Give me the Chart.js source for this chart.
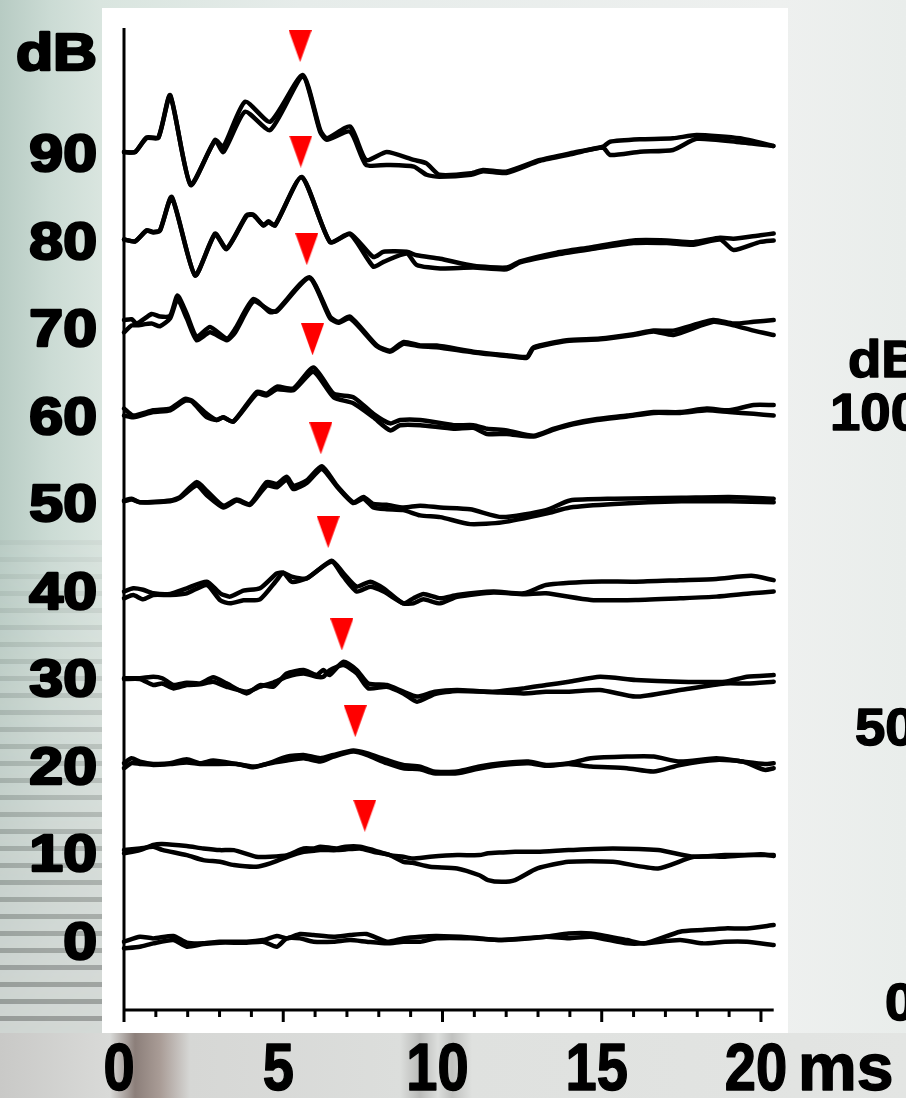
<!DOCTYPE html>
<html><head><meta charset="utf-8">
<script src="https://cdn.jsdelivr.net/npm/chart.js@4.4.1/dist/chart.umd.min.js"></script>
<style>
html,body{margin:0;padding:0;width:906px;height:1098px;overflow:hidden;}
body{position:relative;background:linear-gradient(to right,#b7cbc3 0px,#cbdbd4 50px,#d9e5df 100px,#e6ecea 300px,#eef0ef 780px,#e9edeb 906px);}
#stripes{position:absolute;left:0;top:540px;width:104px;height:500px;
background:repeating-linear-gradient(to bottom,#8f918f 0px,#8f918f 5px,#d3d6d4 5px,#d3d6d4 17px);
-webkit-mask-image:linear-gradient(to bottom,rgba(0,0,0,0.1),rgba(0,0,0,0.85));}
#bottom{position:absolute;left:0;top:1033px;width:906px;height:65px;background:linear-gradient(to right,#c9c9c7 0px,#d9dad8 110px,#8c7f7a 135px,#a99c96 160px,#d6d7d5 190px,#dcdedc 400px,#b9bab8 420px,#dcdedc 438px,#c0c1bf 452px,#dfe1df 472px,#e3e5e3 906px);}
#panel{position:absolute;left:102px;top:8px;width:686px;height:1025px;background:#ffffff;}
#wrap{position:absolute;left:0;top:0;width:906px;height:1098px;}
</style></head>
<body>
<div id="stripes"></div><div id="bottom"></div><div id="panel"></div>
<div id="wrap"><canvas id="c" width="906" height="1098"></canvas></div>
<script>
// Stimulus levels (dB) and tick labels
const levels = [90, 80, 70, 60, 50, 40, 30, 20, 10, 0];
const levelLabels = ["90","80","70","60","50","40","30","20","10","0"];
const timeTicks = [0, 5, 10, 15, 20];
const timeTickLabels = ["0", "5", "10", "15", "20"];

// Waveforms: time (ms) and deflection (dB-scale units) for the two repeated runs
const t90 = [0,0.35,0.71,1.08,1.45,2.09,2.86,3.12,3.8,4.59,5.61,6.16,6.37,7.1,7.6,8.25,9.1,9.5,9.9,10.9,11.27,12.0,13.06,14.1,15.04,15.26,16.2,17.24,17.98,19.34,20.39];
const a90 = [0,0,1.67,1.67,6.5,-3.77,1.37,0.6,5.74,3.46,8.79,2.5,1.56,2.9,-0.91,0,-0.91,-1.3,-2.6,-2.44,-2.05,-2.25,-0.91,-0.08,0.6,1.17,1.45,1.56,1.94,1.56,0.68];
const b90 = [0,0,1.6,1.6,6.4,-3.7,1.3,0,4.6,2.5,8.6,2.3,1.4,2.32,-1.48,-1.48,-1.67,-2.6,-2.82,-2.6,-2.2,-2.4,-1.0,-0.2,0.5,-0.34,0.03,0.23,1.5,1.1,0.68];

const t80 = [0,0.35,0.71,0.92,1.13,1.5,2.23,2.86,3.22,3.85,4.06,4.38,4.53,4.74,5.58,6.47,7.1,7.83,8.15,8.88,9.19,9.93,10.97,12.02,12.44,13.59,14.64,16.0,17.04,17.88,18.72,19.14,19.98,20.4];
const a80 = [0,-0.2,1.06,0.87,1.06,4.87,-4.07,0.68,-1.03,2.78,2.85,1.63,2.09,1.63,7.15,-0.27,0.68,-2.0,-1.4,-1.4,-1.8,-2.2,-3.0,-3.2,-2.5,-1.5,-0.9,-0.1,-0.1,-0.3,0.2,0.1,0.5,0.68];
const b80 = [0,-0.2,1.0,0.8,1.0,4.8,-4.1,0.6,-1.1,2.7,2.8,1.6,2.0,1.6,7.1,-0.3,0.6,-3.1,-2.55,-1.6,-2.9,-3.3,-3.2,-3.4,-2.6,-1.7,-1.1,-0.4,-0.4,-0.6,0.0,-1.2,-0.27,-0.1];

const t70 = [0,0.24,0.4,0.87,1.13,1.45,1.68,1.97,2.28,2.7,3.23,3.49,4.06,4.59,4.8,5.82,6.47,6.73,7.1,7.94,8.36,8.78,9.3,9.82,10.97,12.02,12.65,12.86,13.9,14.95,16.0,16.63,17.25,18.5,19.14,19.77,20.4];
const a70 = [0.8,0.9,0.4,1.5,1.2,1.3,3.6,1.5,-1.1,0,-1.3,-0.2,3.2,1.7,1.9,5.7,1.2,0.6,1.2,-2.1,-2.7,-1.7,-2.1,-2.1,-2.8,-3.2,-3.4,-2.3,-1.5,-1.3,-0.8,-0.4,-0.4,0.8,0.4,0.6,0.8];
const b70 = [-0.6,0.2,0.2,0.4,0.1,1.0,3.2,1.0,-1.5,-0.6,-1.5,-0.6,2.9,1.9,1.8,5.6,1.0,0.5,1.0,-2.2,-2.8,-1.9,-2.2,-2.3,-2.9,-3.3,-3.5,-2.4,-1.6,-1.4,-0.9,-0.5,-0.9,0.6,0.2,-0.4,-0.9];

const t60 = [0,0.29,0.92,1.45,1.92,2.13,2.6,2.91,3.12,3.43,4.17,4.48,4.8,5.32,5.95,6.58,7.2,7.83,8.36,8.67,9.3,10.35,10.97,11.4,12.02,12.86,13.5,14.1,14.85,15.8,16.63,17.46,18.3,19.0,19.77,20.4];
const a60 = [0.7,-0.1,0.5,0.7,1.8,1.6,0.1,-0.6,-0.3,-0.8,2.6,2.4,3.2,3.0,5.4,2.4,2.0,0.1,-1.0,-0.6,-0.6,-1.2,-1.2,-1.6,-1.8,-2.4,-1.6,-1.0,-0.5,-0.1,0.3,0.3,0.7,0.5,1.1,1.1];
const b60 = [-0.1,-0.3,0.3,0.5,1.6,1.5,-0.3,-0.6,-0.3,-0.8,2.4,2.2,2.9,2.8,4.9,2.0,1.3,-0.3,-1.8,-1.2,-1.2,-1.6,-1.5,-2.2,-2.2,-2.5,-1.7,-1.1,-0.6,-0.2,0.2,0.2,0.5,0.3,0.1,-0.1];

const t50 = [0,0.24,0.5,1.45,1.76,2.28,2.6,3.12,3.54,3.96,4.48,4.8,5.11,5.32,5.74,6.21,6.68,7.2,7.52,7.83,8.25,8.77,9.3,9.93,10.87,11.87,13.25,14.0,15.4,17.5,19.0,20.4];
const a50 = [0.2,0.4,0,0.2,0.6,2.3,1.3,-0.4,0.3,-0.2,2.3,2.1,2.9,1.9,2.5,4.1,1.9,0,0.6,-0.2,-0.3,-0.6,-0.4,-0.6,-0.8,-1.7,-0.9,0.2,0.4,0.5,0.6,0.4];
const b50 = [0.1,0.3,0,0.1,0.5,1.9,0.8,-0.6,0.2,-0.3,1.9,1.7,2.6,1.5,2.2,3.8,1.8,-0.1,0.4,-0.6,-0.8,-0.9,-1.5,-1.7,-2.5,-2.3,-1.3,-0.6,-0.2,0.1,0.1,0];

const t40 = [0,0.29,0.6,0.92,1.45,1.97,2.6,3.02,3.33,3.75,4.27,4.8,5.0,5.27,5.74,6.52,6.89,7.31,7.73,8.15,8.77,9.09,9.4,9.93,10.46,11.6,12.56,13.25,14.66,16.07,17.46,18.6,19.7,20.4];
const a40 = [-0.2,0.17,0,-0.4,-0.48,0.17,0.93,-0.4,-0.78,-0.1,0.17,1.88,1.96,1.5,1.31,3.33,1.88,0.36,0.93,0.17,-1.55,-0.97,-0.48,-0.97,-0.59,-0.2,-0.4,0.55,0.93,0.93,1.1,1.24,1.6,1.1];
const b40 = [-0.97,-0.6,-1.09,-0.6,-0.6,-0.4,0.55,-1.2,-1.55,-1.2,-1.09,1.12,1.96,0.9,1.31,3.2,1.5,-0.2,0.36,-0.2,-1.55,-1.55,-1.09,-1.55,-0.8,-0.3,-0.5,-0.4,-1.16,-1.16,-0.97,-0.78,-0.4,-0.2];

const t30 = [0,0.5,0.92,1.2,1.55,1.97,2.39,2.8,3.22,3.85,4.27,4.69,5.11,5.64,6.05,6.26,6.45,6.89,7.31,7.67,8.25,8.77,9.2,9.76,10.46,11.58,12.56,13.25,13.97,14.95,16.07,17.46,18.87,19.56,20.4];
const a30 = [-0.1,-0.1,0.07,-0.1,-0.88,-0.61,-0.69,0,-0.69,-1.83,-0.88,-1.07,0.45,0.83,0.26,0.83,0.26,1.78,0.83,-0.69,-0.88,-1.64,-2.2,-1.64,-1.45,-1.64,-1.26,-0.88,-0.5,0.07,-0.3,-0.5,-0.5,0.07,0.26];
const b30 = [-0.2,-0.2,-0.88,-0.7,-1.26,-0.88,-0.8,-0.5,-1.07,-1.64,-1.07,-0.6,0.07,0.45,0.07,0.07,0.8,1.4,0.45,-1.26,-1.07,-1.83,-2.78,-1.9,-1.55,-1.7,-1.83,-1.64,-1.64,-1.45,-2.2,-1.45,-0.7,-0.7,-0.5];

const t20 = [0,0.24,0.5,0.92,1.45,1.97,2.39,2.8,3.54,4.06,4.48,5.11,5.64,6.16,6.58,7.2,7.62,8.25,8.77,9.3,9.72,10.46,11.16,11.86,12.7,13.25,13.96,14.66,15.79,16.63,17.46,18.6,19.43,20.12,20.4];
const a20 = [0.19,0.76,0.38,0.11,0.19,0.65,0.19,0.5,0.11,-0.19,0.11,0.95,1.14,0.76,1.14,1.64,1.33,0.57,0,-0.19,-0.76,-0.76,-0.19,0.19,0.38,0,0.19,0.76,0.95,0.95,0.38,0.76,0.38,0.1,0.19];
const b20 = [-0.38,0.2,0.11,0,0.1,0.27,0.1,0.11,0.11,-0.27,0.11,0.5,0.76,0.38,0.95,1.52,1.14,0.19,-0.38,-0.5,-0.95,-0.95,-0.4,0,0.2,-0.1,0.1,-0.19,-0.38,-0.76,0,0.57,0.38,-0.57,-0.38];

const t10 = [0,0.5,0.92,1.2,1.97,2.49,3.02,3.45,4.15,4.59,5.13,5.64,5.97,6.16,6.68,6.95,7.41,7.83,8.35,8.77,9.06,9.61,10.46,11.16,11.43,11.86,12.28,12.98,13.96,15.35,16.77,17.89,18.87,19.99,20.4];
const a10 = [-0.1,0.27,0.85,0.96,0.73,0.46,0.27,0.27,-0.49,-0.49,-0.3,0.46,0.46,0.66,0.46,0.66,0.66,0.27,-0.3,-0.49,-0.68,-0.49,-0.3,-0.3,-0.1,0,0.08,0.08,0.27,0.46,0.27,-0.49,-0.3,-0.3,-0.3];
const b10 = [0.27,0.46,0.65,0.3,-0.3,-0.87,-1.06,-1.44,-1.63,-1.25,-0.49,0.08,0.2,0.27,0.27,0.35,0.46,0.08,-0.3,-1.06,-1.18,-1.63,-1.82,-2.6,-3.15,-3.35,-3.15,-1.82,-1.06,-1.06,-1.82,-0.49,-0.49,-0.2,-0.4];

const t0 = [0,0.5,0.92,1.55,1.97,2.49,3.0,3.85,4.37,4.8,5.11,5.53,5.95,6.58,7.1,7.62,8.25,8.77,9.3,9.82,10.87,11.86,13.25,13.96,14.66,15.79,16.35,17.46,18.17,18.87,19.56,20.4];
const a0 = [-0.19,0.38,0.19,0.46,-0.3,-0.38,-0.19,-0.19,0,0.46,0.19,0.69,0.57,0.38,0.57,0.69,-0.19,0.19,0.38,0.46,0.3,0,0.38,0.76,0.76,0,-0.38,0.95,1.14,1.33,1.33,1.71];
const b0 = [-0.95,-0.76,-0.38,0,-0.76,-0.46,-0.3,-0.3,-0.19,-0.76,0.19,0.19,-0.19,-0.19,0,-0.19,-0.38,-0.19,-0.19,0.19,0.19,0,0.38,0.19,0.38,-0.38,-0.38,0,-0.38,-0.19,-0.19,-0.57];

// Wave V markers (red triangles): latency (ms) and plotted height
const markerTime = [5.53, 5.55, 5.74, 5.92, 6.18, 6.41, 6.84, 7.26, 7.56];
const markerY = [102.1, 90.05, 78.9, 68.6, 57.3, 46.6, 34.9, 25.0, 14.2];

const traces = [
  [90, t90, a90, b90], [80, t80, a80, b80], [70, t70, a70, b70], [60, t60, a60, b60],
  [50, t50, a50, b50], [40, t40, a40, b40], [30, t30, a30, b30], [20, t20, a20, b20],
  [10, t10, a10, b10], [0, t0, a0, b0]
];

const tri = document.createElement('canvas');
tri.width = 23; tri.height = 32;
(function(){ const c = tri.getContext('2d'); c.fillStyle = '#ff0000'; c.beginPath(); c.moveTo(0,0); c.lineTo(23,0); c.lineTo(11.5,32); c.closePath(); c.fill(); })();

const datasets = [];
traces.forEach(([lvl, t, a, b]) => {
  [a, b].forEach(v => {
    datasets.push({
      type: 'line',
      data: t.map((x, i) => ({ x: x, y: lvl + v[i] })),
      borderColor: '#000000', borderWidth: 4.5, pointRadius: 0, tension: 0.2,
      fill: false, borderJoinStyle: 'round', borderCapStyle: 'round', clip: false
    });
  });
});
datasets.push({
  type: 'scatter',
  data: markerTime.map((x, i) => ({ x: x, y: markerY[i] })),
  pointStyle: tri, pointRadius: 16, clip: false
});

const FONT = '"Liberation Sans", Arial, sans-serif';
function boldText(ctx, txt, x, y, sx, stroke) {
  ctx.save(); ctx.translate(x, y); ctx.scale(sx, 1);
  ctx.lineWidth = stroke; ctx.lineJoin = 'round';
  if (stroke > 0) ctx.strokeText(txt, 0, 0);
  ctx.fillText(txt, 0, 0); ctx.restore();
}
const decor = {
  id: 'decor',
  afterDraw(chart) {
    const ctx = chart.ctx, xs = chart.scales.x, ys = chart.scales.y, ca = chart.chartArea;
    ctx.save();
    ctx.strokeStyle = '#000'; ctx.fillStyle = '#000';
    const x0 = xs.getPixelForValue(0);
    ctx.lineWidth = 3;
    ctx.beginPath();
    ctx.moveTo(x0, ca.top); ctx.lineTo(x0, ca.bottom + 12);
    ctx.moveTo(x0 - 1.5, ca.bottom); ctx.lineTo(ca.right, ca.bottom);
    ctx.stroke();
    for (let i = 1; i <= 20; i++) {
      const px = xs.getPixelForValue(i);
      const major = i % 5 === 0;
      ctx.lineWidth = 3;
      ctx.beginPath(); ctx.moveTo(px, ca.bottom); ctx.lineTo(px, ca.bottom + (major ? 12 : 7)); ctx.stroke();
    }
    // x tick labels (condensed bold)
    ctx.font = 'bold 66px ' + FONT;
    ctx.textBaseline = 'alphabetic'; ctx.textAlign = 'center';
    timeTicks.forEach((v, i) => {
      boldText(ctx, timeTickLabels[i], xs.getPixelForValue(v) - 5, 1090, 0.85, 1.5);
    });
    ctx.textAlign = 'left';
    boldText(ctx, 'ms', 798, 1090, 1.0, 1.5);
    // y level labels (wide heavy)
    ctx.font = 'bold 52px ' + FONT; ctx.textAlign = 'right';
    levels.forEach((lv, i) => {
      boldText(ctx, levelLabels[i], 97, ys.getPixelForValue(lv) + 19, 1.17, 2.5);
    });
    boldText(ctx, 'dB', 97, 70, 1.17, 2.5);
    // neighbouring panel (cut off at right edge)
    ctx.textAlign = 'left';
    boldText(ctx, 'dB', 848, 377, 1.05, 1.5);
    boldText(ctx, '100', 830, 430, 1.05, 1.5);
    boldText(ctx, '50', 855, 745, 1.05, 1.5);
    boldText(ctx, '0', 885, 1020, 1.05, 1.5);
    ctx.restore();
  }
};

new Chart(document.getElementById('c'), {
  type: 'line',
  data: { datasets: datasets },
  options: {
    responsive: false, animation: false, devicePixelRatio: 1,
    layout: { padding: { left: 124, right: 132.3, top: 28, bottom: 88 } },
    plugins: { legend: { display: false }, tooltip: { enabled: false } },
    scales: {
      x: { type: 'linear', min: 0, max: 20.4, display: false },
      y: { type: 'linear', min: -7.99, max: 104.16, display: false }
    }
  },
  plugins: [decor]
});
</script>
</body></html>
